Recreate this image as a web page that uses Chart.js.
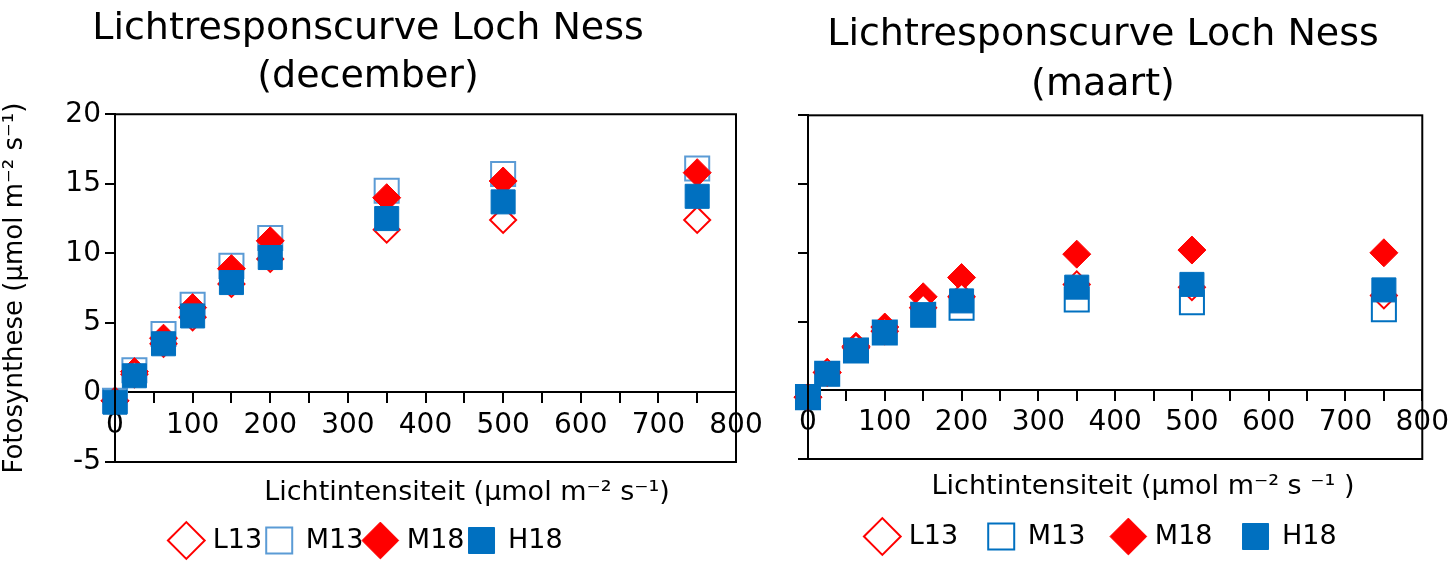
<!DOCTYPE html>
<html>
<head>
<meta charset="utf-8">
<script src="https://cdn.jsdelivr.net/npm/chart.js@4"></script>
<style>
  body { margin: 0; background: #fff; }
  #wrap { position: relative; width: 1455px; height: 564px; overflow: hidden; }
  #leftBox { position: absolute; left: 0; top: 0; width: 780px; height: 564px; }
  #rightBox { position: absolute; left: 760px; top: 0; width: 695px; height: 564px; }
</style>
</head>
<body>
<div id="wrap">
  <div id="leftBox"><canvas id="decChart"></canvas></div>
  <div id="rightBox"><canvas id="marChart"></canvas></div>
</div>
<script>
// light intensity steps (µmol m-2 s-1)
const lightLevels = [0, 25, 62.5, 100, 150, 200, 350, 500, 750];

// december
const decL13 = [-0.6, 1.3, 3.5, 5.4, 7.8, 9.6, 11.7, 12.4, 12.4];
const decM13 = [-0.6, 1.6, 4.2, 6.3, 9.1, 11.1, 14.5, 15.7, 16.1];
const decM18 = [-0.6, 1.5, 3.9, 6.1, 8.9, 10.9, 14.0, 15.2, 15.8];
const decH18 = [-0.7, 1.2, 3.5, 5.5, 7.9, 9.7, 12.5, 13.7, 14.1];

// maart
const marL13 = [-0.5, 1.3, 3.1, 4.3, 6.0, 6.8, 7.7, 7.5, 6.9];
const marM13 = [-0.5, 1.2, 2.9, 4.2, 5.5, 6.0, 6.6, 6.4, 5.9];
const marM18 = [-0.5, 1.3, 3.2, 4.6, 6.8, 8.2, 9.9, 10.2, 10.0];
const marH18 = [-0.5, 1.2, 2.9, 4.2, 5.5, 6.5, 7.5, 7.7, 7.3];

const yTicks = [-5, 0, 5, 10, 15, 20];
const xTicks = [0, 100, 200, 300, 400, 500, 600, 700, 800];

const RED = '#FF0000';
const BLUE = '#0070C0';
const FONT = "'DejaVu Sans', Verdana, sans-serif";

function toPoints(values) {
    return values.map((v, i) => ({ x: lightLevels[i], y: v }));
}

function makeDatasets(l13, m13, m18, h18, m13Color) {
    return [
        { label: 'L13', data: toPoints(l13), pointStyle: 'rectRot', radius: 13,
          backgroundColor: '#fff', borderColor: RED, borderWidth: 2, order: 1, clip: false },
        { label: 'M13', data: toPoints(m13), pointStyle: 'rect', radius: 17,
          backgroundColor: '#fff', borderColor: m13Color, borderWidth: 2, order: 3, clip: false },
        { label: 'M18', data: toPoints(m18), pointStyle: 'rectRot', radius: 14,
          backgroundColor: RED, borderColor: RED, borderWidth: 1, order: 2, clip: false },
        { label: 'H18', data: toPoints(h18), pointStyle: 'rect', radius: 17,
          backgroundColor: BLUE, borderColor: BLUE, borderWidth: 1, order: 0, clip: false }
    ];
}

// frame round the plot area + x axis title below it
const framePlugin = {
    id: 'frame',
    afterDraw(chart, args, opts) {
        const { ctx, chartArea: a } = chart;
        ctx.save();
        ctx.strokeStyle = '#000';
        ctx.lineWidth = 2;
        ctx.strokeRect(a.left, a.top, a.right - a.left, a.bottom - a.top);
        ctx.fillStyle = '#000';
        ctx.font = '27px ' + FONT;
        ctx.textAlign = 'center';
        ctx.textBaseline = 'middle';
        ctx.fillText(opts.xTitle, opts.xTitleX, opts.xTitleY);
        ctx.restore();
    }
};

function buildChart(canvasId, cfg) {
    const ctx = document.getElementById(canvasId).getContext('2d');
    return new Chart(ctx, {
        type: 'scatter',
        data: { datasets: cfg.datasets },
        options: {
            responsive: true,
            maintainAspectRatio: false,
            animation: false,
            layout: { padding: { left: 0, right: cfg.padRight, bottom: cfg.padBottom } },
            scales: {
                x: {
                    type: 'linear', min: 0, max: 800,
                    position: { y: 0 },
                    afterBuildTicks: s => { s.ticks = [];
                        for (let v = 0; v <= 800; v += 50) s.ticks.push({ value: v }); },
                    ticks: {
                        autoSkip: false, maxRotation: 0, padding: 6,
                        color: '#000', font: { family: FONT, size: 28 },
                        callback: v => xTicks.includes(v) ? String(v) : ''
                    },
                    grid: { drawOnChartArea: false, drawTicks: true, tickLength: 10, color: '#000', lineWidth: 2 },
                    border: { color: '#000', width: 2 }
                },
                y: {
                    min: -5, max: 20,
                    afterBuildTicks: s => { s.ticks = yTicks.map(v => ({ value: v })); },
                    afterFit: s => { s.width = cfg.yWidth; },
                    ticks: {
                        padding: 4, color: '#000', font: { family: FONT, size: 28 },
                        callback: v => cfg.yLabels ? String(v) : ''
                    },
                    grid: { drawOnChartArea: false, drawTicks: true, tickLength: 10, color: '#000', lineWidth: 2 },
                    border: { color: '#000', width: 2 },
                    title: {
                        display: cfg.yLabels, text: 'Fotosynthese (µmol m⁻² s⁻¹)',
                        color: '#000', font: { family: FONT, size: 26 }, padding: 0
                    }
                }
            },
            plugins: {
                title: {
                    display: true, text: cfg.title, color: '#000',
                    font: { family: FONT, size: 38, weight: 'normal', lineHeight: cfg.titleLH },
                    padding: cfg.titlePad
                },
                legend: {
                    position: 'bottom',
                    title: { display: true, text: ' ', font: { size: 10 }, padding: { top: 0, bottom: cfg.legendGap } },
                    labels: {
                        usePointStyle: true, color: '#000', boxWidth: 26, boxHeight: 26,
                        padding: cfg.legendSpacing, font: { family: FONT, size: 27 },
                        sort: (a, b) => a.datasetIndex - b.datasetIndex
                    }
                },
                tooltip: { enabled: false },
                frame: { xTitle: cfg.xTitle, xTitleX: cfg.xTitleX, xTitleY: cfg.xTitleY }
            }
        },
        plugins: [framePlugin]
    });
}

buildChart('decChart', {
    datasets: makeDatasets(decL13, decM13, decM18, decH18, '#5B9BD5'),
    title: ['Lichtresponscurve Loch Ness', '(december)'],
    titleLH: 1.24, titlePad: { top: 6, bottom: 14 },
    yWidth: 115, yLabels: true, padRight: 44, padBottom: 0,
    legendGap: 49, legendSpacing: 4,
    xTitle: 'Lichtintensiteit (µmol m⁻² s⁻¹)', xTitleX: 467, xTitleY: 493
});

buildChart('marChart', {
    datasets: makeDatasets(marL13, marM13, marM18, marH18, BLUE),
    title: ['Lichtresponscurve Loch Ness', '(maart)'],
    titleLH: 1.32, titlePad: { top: 10, bottom: 5 },
    yWidth: 48, yLabels: false, padRight: 9, padBottom: 4,
    legendGap: 22, legendSpacing: 30,
    xTitle: 'Lichtintensiteit (µmol m⁻² s ⁻¹ )', xTitleX: 383, xTitleY: 487
});
</script>
</body>
</html>
